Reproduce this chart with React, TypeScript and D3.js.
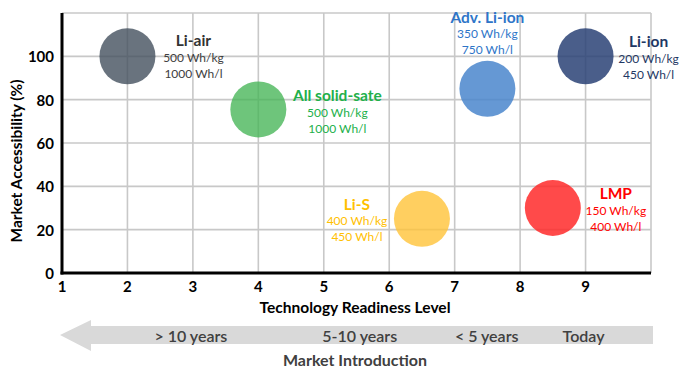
import React from "react";
import * as d3 from "d3";

const techs = ["Li-air", "All solid-sate", "Adv. Li-ion", "Li-ion", "Li-S", "LMP"];
const trl = [2, 4, 7.5, 9, 6.5, 8.5];
const access = [100, 75.5, 85, 100, 25, 30];
const gravimetric = ["500 Wh/kg", "500 Wh/kg", "350 Wh/kg", "200 Wh/kg", "400 Wh/kg", "150 Wh/kg"];
const volumetric = ["1000 Wh/l", "1000 Wh/l", "750 Wh/l", "450 Wh/l", "450 Wh/l", "400 Wh/l"];
const xTicks = [1, 2, 3, 4, 5, 6, 7, 8, 9];
const yTicks = [0, 20, 40, 60, 80, 100];
const timeLabels = ["> 10 years", "5-10 years", "< 5 years", "Today"];
const timeTrl = [3, 5.58, 7.52, 9];

const bubbleFill = ["#44505e", "#45b556", "#4a86cc", "#2a4275", "#ffc338", "#ff2a2a"];
const bubbleOpacity = [0.8, 0.78, 0.85, 0.85, 0.8, 0.85];
const titleColor = ["#333333", "#22b04a", "#2e75c8", "#1f3864", "#ffc000", "#ff0000"];
const subColor = ["#404040", "#22b04a", "#2e75c8", "#1f3864", "#ffc000", "#ff0000"];
const labelDx = [66, 79, 0, 63, -65, 63];
const labelDy = [-16, -14, -72, -15, -15, -15];

const FONT = "Lato, 'Open Sans', sans-serif";

export default function App() {
  const W = 685, H = 379;
  const x = d3.scaleLinear().domain([1, 10]).range([62, 651]);
  const y = d3.scaleLinear().domain([0, 120]).range([273, 13]);
  const gridX = d3.range(2, 11);
  const gridY = d3.range(20, 121, 20);
  const r = 28;

  const arrowPath = d3.path();
  arrowPath.moveTo(60, 335);
  arrowPath.lineTo(91, 320);
  arrowPath.lineTo(91, 326);
  arrowPath.lineTo(653, 326);
  arrowPath.lineTo(653, 344);
  arrowPath.lineTo(91, 344);
  arrowPath.lineTo(91, 351);
  arrowPath.closePath();

  return (
    <svg width={W} height={H} style={{ position: "absolute", left: 0, top: 0, background: "#fff" }} fontFamily={FONT}>
      <rect width={W} height={H} fill="#fff" />
      {gridX.map((g) => (
        <line key={"gx" + g} x1={x(g)} x2={x(g)} y1={y(0)} y2={y(120)} stroke="#c8c8c8" strokeWidth={1.6} />
      ))}
      {gridY.map((g) => (
        <line key={"gy" + g} x1={x(1)} x2={x(10)} y1={y(g)} y2={y(g)} stroke="#c8c8c8" strokeWidth={1.6} />
      ))}
      {techs.map((t, i) => (
        <circle key={"c" + t} cx={x(trl[i])} cy={y(access[i])} r={r} fill={bubbleFill[i]} fillOpacity={bubbleOpacity[i]} />
      ))}
      <line x1={x(1)} x2={x(1)} y1={y(120)} y2={y(0) + 1.5} stroke="#000" strokeWidth={3} />
      <line x1={x(1) - 1.5} x2={x(10)} y1={y(0)} y2={y(0)} stroke="#000" strokeWidth={3} />
      {xTicks.map((t) => (
        <text key={"xt" + t} x={x(t)} y={y(0) + 13} textAnchor="middle" dominantBaseline="central" fontSize={15} fontWeight={700} fill="#000">
          {t}
        </text>
      ))}
      {yTicks.map((t) => (
        <text key={"yt" + t} x={54} y={y(t)} textAnchor="end" dominantBaseline="central" fontSize={15} fontWeight={700} fill="#000">
          {t}
        </text>
      ))}
      <text x={355} y={306} textAnchor="middle" dominantBaseline="central" fontSize={16} fontWeight={700} fill="#000" textLength={191} lengthAdjust="spacingAndGlyphs">
        Technology Readiness Level
      </text>
      <text transform="translate(16,161) rotate(-90)" textAnchor="middle" dominantBaseline="central" fontSize={15} fontWeight={700} fill="#000" textLength={163} lengthAdjust="spacingAndGlyphs">
        Market Accessibility (%)
      </text>
      {techs.map((t, i) => {
        const cx = x(trl[i]) + labelDx[i];
        const cy = y(access[i]) + labelDy[i];
        return (
          <g key={"l" + t}>
            <text x={cx} y={cy} textAnchor="middle" dominantBaseline="central" fontSize={15.5} fontWeight={700} fill={titleColor[i]}>
              {t}
            </text>
            <text x={cx} y={cy + 17} textAnchor="middle" dominantBaseline="central" fontSize={12} fill={subColor[i]}>
              {gravimetric[i]}
            </text>
            <text x={cx} y={cy + 33} textAnchor="middle" dominantBaseline="central" fontSize={12} fill={subColor[i]}>
              {volumetric[i]}
            </text>
          </g>
        );
      })}
      <path d={arrowPath.toString()} fill="#d9d9d9" />
      {timeLabels.map((t, i) => (
        <text key={"tl" + t} x={x(timeTrl[i]) - 2} y={335} textAnchor="middle" dominantBaseline="central" fontSize={16} fontWeight={600} fill="#404040">
          {t}
        </text>
      ))}
      <text x={355} y={359} textAnchor="middle" dominantBaseline="central" fontSize={16} fontWeight={700} fill="#404040">
        Market Introduction
      </text>
    </svg>
  );
}
